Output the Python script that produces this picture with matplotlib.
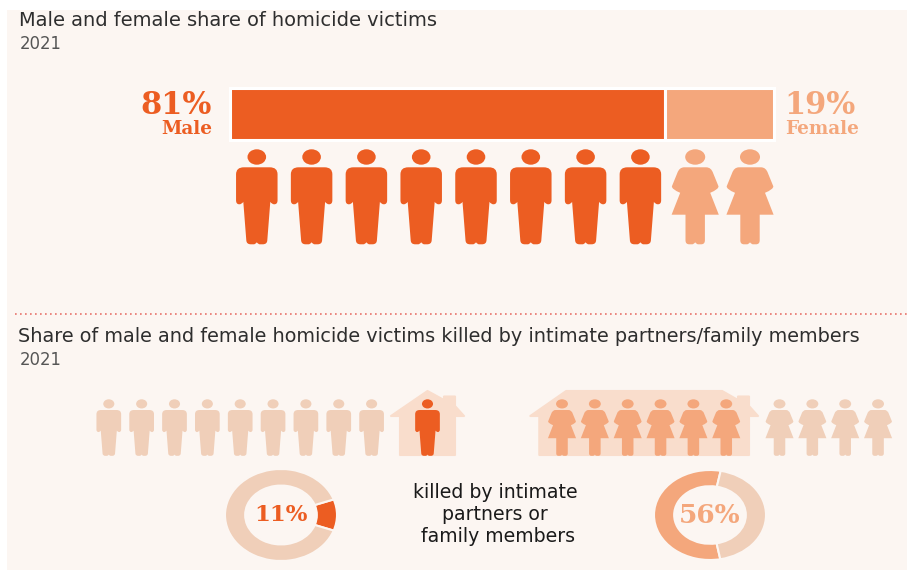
"""
Male and female share of homicide victims, drawn as bars, pictograms and donuts.
"""
import matplotlib
matplotlib.use('Agg')
import matplotlib.pyplot as plt
from matplotlib.patches import Ellipse, PathPatch, Polygon, Rectangle
from matplotlib.path import Path
from matplotlib.transforms import Affine2D

W, H = 910, 570

# Data
groups = ['Male', 'Female']
shares_label = [81, 19]
bar_widths = [80, 20]         # as drawn in the picture
icons_per_group = [8, 2]
killed_share = [11, 56]
killed_icons = [1, 6]
other_icons = [9, 4]
year = '2021'
title_top = 'Male and female share of homicide victims'
title_bottom = 'Share of male and female homicide victims killed by intimate partners/family members'
middle_lines = ['killed by intimate', 'partners or', ' family members']

# Colours
PANEL = '#FCF6F2'
ORANGE = '#EC5D22'
PEACH = '#F4A77C'
PALE = '#F0CFB9'
HOUSE = '#F9DDCC'
TEXT = '#2E2E2E'
GREY = '#555555'

M, L, C = Path.MOVETO, Path.LINETO, Path.CURVE3


def silhouette(right_side):
    """Builds a symmetric body outline from the right half (x, y, code)."""
    verts = [(x, y) for x, y, _ in right_side]
    codes = [c for _, _, c in right_side]
    # mirror back to the start
    for i in range(len(right_side) - 1, 0, -1):
        x, y, _ = right_side[i - 1]
        verts.append((-x, y))
        codes.append(codes[i])
    verts.append(verts[0])
    codes.append(Path.CLOSEPOLY)
    return Path(verts, codes)


# Body outlines, units are pixels at full size: x from the centre, y from head top
MAN_BODY = silhouette([
    (0, 18, M), (13, 18, L), (20.75, 18, C), (20.75, 25, C), (20.75, 51, L),
    (20.75, 55, C), (17.5, 55, C), (15, 55, C), (13.5, 52.5, C), (10.5, 91, L),
    (10.3, 95, C), (6, 95, C), (3, 95, L), (1.5, 95, C), (0, 93, C),
])
WOMAN_BODY = silhouette([
    (0, 18, M), (11, 18, L), (16, 18, C), (18, 24, C), (23.3, 37, L),
    (23.5, 40, C), (15, 43.5, C), (23.6, 65.4, L), (9.7, 65.4, L), (9.7, 91, L),
    (9.7, 95, C), (6, 95, C), (3, 95, L), (1.5, 95, C), (0, 93, C),
])
HEAD_RX = {'Male': 9.3, 'Female': 10}


def draw_person(ax, group, cx, top, scale, color):
    body = MAN_BODY if group == 'Male' else WOMAN_BODY
    tr = Affine2D().scale(scale).translate(cx, top) + ax.transData
    ax.add_patch(PathPatch(body, facecolor=color, edgecolor='none', transform=tr))
    ax.add_patch(Ellipse((cx, top + 7.7 * scale), 2 * HEAD_RX[group] * scale, 15.4 * scale,
                         facecolor=color, edgecolor='none'))


def draw_house(ax, x_left, x_right, flat=0):
    """House shape around the icons. flat = half width of the flat roof part."""
    mid = (x_left + x_right) / 2
    eave, top, floor = 416, 391, 455
    wall_l, wall_r = x_left + 9, x_right - 9
    chim_l, chim_r = wall_r - 12, wall_r - 1
    roof = [(x_left + 1, eave), (mid - flat, top), (mid + flat, top), (chim_l, 400),
            (chim_l, 396.5), (chim_r, 396.5), (chim_r, 406), (x_right - 1, eave),
            (wall_r - 1, eave), (wall_r - 1, floor), (wall_l + 1, floor), (wall_l + 1, eave)]
    ax.add_patch(Polygon(roof, closed=True, facecolor=HOUSE, edgecolor=HOUSE,
                         linewidth=1.5, joinstyle='round'))


def px_axes(fig, x0, y0, x1, y1):
    """Axes placed by picture pixels (y going down)."""
    return fig.add_axes([x0 / W, 1 - y1 / H, (x1 - x0) / W, (y1 - y0) / H])


def draw_donut(fig, cx, cy, rx, ry, share, colors, start, label, label_color, label_size):
    ax = px_axes(fig, cx - rx, cy - ry, cx + rx, cy + ry)
    ax.pie([share, 100 - share], colors=colors, startangle=start, radius=1,
           wedgeprops={'width': 0.36, 'edgecolor': PANEL, 'linewidth': 1.5})
    ax.set_aspect('auto')
    ax.set_xlim(-1, 1)
    ax.set_ylim(-1, 1)
    ax.patch.set_alpha(0)
    ax.text(0, -0.01, label, ha='center', va='center', fontsize=label_size, fontweight='bold',
            family='DejaVu Serif', color=label_color)


fig = plt.figure(figsize=(W / 100, H / 100), dpi=100, facecolor='white')
ax = fig.add_axes([0, 0, 1, 1])
ax.set_xlim(0, W)
ax.set_ylim(H, 0)
ax.axis('off')

ax.add_patch(Rectangle((7, 10), 900, 560, facecolor=PANEL, edgecolor='none'))

# Titles
ax.text(19, 21, title_top, fontsize=13.95, family='DejaVu Sans', color=TEXT, va='center')
ax.text(20, 44, year, fontsize=11.9, family='DejaVu Sans', color=GREY, va='center')
ax.text(18, 337, title_bottom, fontsize=13.9, family='DejaVu Sans', color=TEXT, va='center')
ax.text(20, 360, year, fontsize=11.9, family='DejaVu Sans', color=GREY, va='center')

# Dotted divider
ax.plot([15, 907], [314, 314], linestyle=(0, (1, 2)), linewidth=1.2, color='#E8736B')

# Stacked bar
ax_bar = px_axes(fig, 230, 88, 774, 140)
left = 0
for width, color in zip(bar_widths, [ORANGE, PEACH]):
    ax_bar.barh(0, width, left=left, height=1, color=color, edgecolor='white',
                linewidth=2.2, clip_on=False)
    left += width
ax_bar.set_xlim(0, 100)
ax_bar.set_ylim(-0.5, 0.5)
ax_bar.axis('off')

# Bar labels
ax.text(212, 105, f'{shares_label[0]}%', ha='right', va='center', fontsize=22,
        fontweight='bold', family='DejaVu Serif', color=ORANGE)
ax.text(212, 129, groups[0], ha='right', va='center', fontsize=13.2,
        fontweight='bold', family='DejaVu Serif', color=ORANGE)
ax.text(784, 105, f'{shares_label[1]}%', ha='left', va='center', fontsize=22,
        fontweight='bold', family='DejaVu Serif', color=PEACH)
ax.text(785, 129, groups[1], ha='left', va='center', fontsize=13.2,
        fontweight='bold', family='DejaVu Serif', color=PEACH)

# Top pictogram row
x = 256.8
for group, count, color in zip(groups, icons_per_group, [ORANGE, PEACH]):
    for i in range(count):
        draw_person(ax, group, x, 149.3, 1.0, color)
        x += 54.8

# Lower pictograms: male side
STEP = 32.85
draw_house(ax, 390, 465)
x = 108.8
for i in range(other_icons[0]):
    draw_person(ax, 'Male', x, 399.3, 0.595, PALE)
    x += STEP
x = 427.5
for i in range(killed_icons[0]):
    draw_person(ax, 'Male', x, 399.3, 0.595, ORANGE)
    x += STEP

# Lower pictograms: female side
draw_house(ax, 529.3, 759, flat=78)
x = 562
for i in range(killed_icons[1]):
    draw_person(ax, 'Female', x, 399.3, 0.595, PEACH)
    x += STEP
x = 779.5
for i in range(other_icons[1]):
    draw_person(ax, 'Female', x, 399.3, 0.595, PALE)
    x += STEP

# Donuts
draw_donut(fig, 281, 515, 56, 46, killed_share[0], [ORANGE, PALE], -killed_share[0] * 1.8,
           f'{killed_share[0]}%', ORANGE, 16.5)
draw_donut(fig, 710, 515, 56, 45, killed_share[1], [PEACH, PALE], 79,
           f'{killed_share[1]}%', PEACH, 19)

# Middle caption
for y, line in zip([493, 514, 536], middle_lines):
    ax.text(495, y, line, ha='center', va='center', fontsize=13.6, family='DejaVu Sans', color='#1A1A1A')

fig.savefig('out.png', dpi=100, facecolor='white')
